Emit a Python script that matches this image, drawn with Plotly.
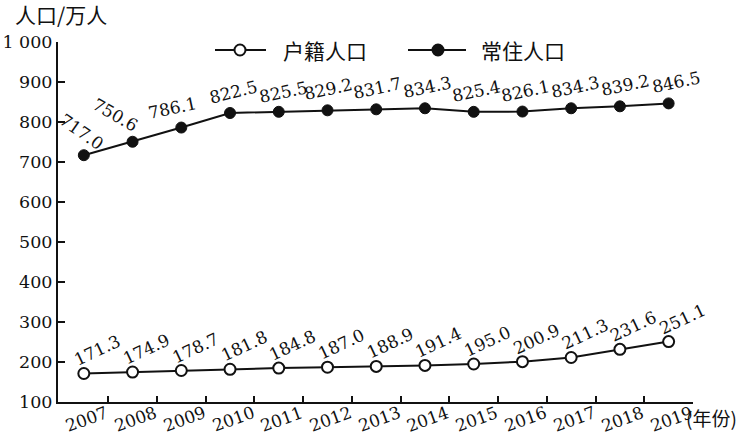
import plotly.graph_objects as go

years = [2007, 2008, 2009, 2010, 2011, 2012, 2013, 2014, 2015, 2016, 2017, 2018, 2019]
huji = [171.3, 174.9, 178.7, 181.8, 184.8, 187.0, 188.9, 191.4, 195.0, 200.9, 211.3, 231.6, 251.1]
changzhu = [717.0, 750.6, 786.1, 822.5, 825.5, 829.2, 831.7, 834.3, 825.4, 826.1, 834.3, 839.2, 846.5]
y_tickvals = [100, 200, 300, 400, 500, 600, 700, 800, 900, 1000]
y_ticktext = ["100", "200", "300", "400", "500", "600", "700", "800", "900", "1 000"]
name_huji = "户籍人口"
name_changzhu = "常住人口"
y_title = "人口/万人"
x_unit = "(年份)"

# label styling (angles / pixel offsets)
top_angle = [35, 30, -12, -14, -12, -12, -12, -12, -12, -12, -12, -12, -12]
top_dx = [-2, -17, -9, 3, 5, 1, 1, 3, 3, 3, 4, 6, 8]
top_dy = [23, 27, 20, 21, 20, 21, 21, 21, 21, 21, 21, 21, 21]
bot_angle = -25
bot_dx = 14
bot_dy = 23

SERIF = "DejaVu Serif"
CJK = "Noto Sans CJK SC"
BLACK = "#111111"

W, H = 745, 446
L, R, T, B = 58, 52, 42, 44
pw, ph = W - L - R, H - T - B


def px(xp):
    return (xp - L) / pw


def py(yp):
    return (H - B - yp) / ph


fig = go.Figure()
fig.add_trace(go.Scatter(
    x=years, y=changzhu, mode="lines+markers", name=name_changzhu,
    line=dict(color=BLACK, width=2),
    marker=dict(symbol="circle", size=11, color=BLACK, line=dict(color=BLACK, width=1)),
    showlegend=False, cliponaxis=False,
))
fig.add_trace(go.Scatter(
    x=years, y=huji, mode="lines+markers", name=name_huji,
    line=dict(color=BLACK, width=2),
    marker=dict(symbol="circle", size=11, color="white", line=dict(color=BLACK, width=2)),
    showlegend=False, cliponaxis=False,
))

annotations = []
for i, (yr, v) in enumerate(zip(years, changzhu)):
    annotations.append(dict(
        x=yr, y=v, xref="x", yref="y", text=f"{v:.1f}", showarrow=False,
        textangle=top_angle[i], xshift=top_dx[i], yshift=top_dy[i],
        font=dict(family=SERIF, size=17, color=BLACK),
        xanchor="center", yanchor="middle",
    ))
for yr, v in zip(years, huji):
    annotations.append(dict(
        x=yr, y=v, xref="x", yref="y", text=f"{v:.1f}", showarrow=False,
        textangle=bot_angle, xshift=bot_dx, yshift=bot_dy,
        font=dict(family=SERIF, size=17, color=BLACK),
        xanchor="center", yanchor="middle",
    ))
# x tick labels (rotated)
for yr in years:
    annotations.append(dict(
        x=yr, y=py(419), xref="x", yref="paper", text=str(yr), showarrow=False,
        textangle=-20, xshift=3,
        font=dict(family=SERIF, size=17, color=BLACK),
        xanchor="center", yanchor="middle",
    ))
annotations.append(dict(
    x=px(684), y=py(417), xref="paper", yref="paper", text=x_unit, showarrow=False,
    font=dict(family=CJK, size=19, color=BLACK), xanchor="left", yanchor="middle",
))
annotations.append(dict(
    x=px(13), y=py(14), xref="paper", yref="paper", text=y_title, showarrow=False,
    font=dict(family=CJK, size=21, color=BLACK), xanchor="left", yanchor="middle",
))

shapes = []
leg_y = 50
for (x0, x1, xm, filled, tx, name) in [
    (215, 266, 240, False, 281, name_huji),
    (408, 466, 438, True, 479, name_changzhu),
]:
    shapes.append(dict(type="line", xref="paper", yref="paper",
                       x0=px(x0), x1=px(x1), y0=py(leg_y), y1=py(leg_y),
                       line=dict(color=BLACK, width=2)))
    r = 5.5
    shapes.append(dict(type="circle", xref="paper", yref="paper",
                       x0=px(xm - r), x1=px(xm + r), y0=py(leg_y + r), y1=py(leg_y - r),
                       fillcolor=BLACK if filled else "white",
                       line=dict(color=BLACK, width=2)))
    annotations.append(dict(
        x=px(tx), y=py(leg_y), xref="paper", yref="paper", text=name, showarrow=False,
        font=dict(family=CJK, size=21, color=BLACK), xanchor="left", yanchor="middle",
    ))

fig.update_layout(
    width=W, height=H,
    margin=dict(l=L, r=R, t=T, b=B),
    paper_bgcolor="white", plot_bgcolor="white",
    showlegend=False,
    annotations=annotations,
    shapes=shapes,
    xaxis=dict(
        range=[2006.47, 2019.5],
        tickvals=[y + 0.5 for y in years],
        showticklabels=False,
        ticks="inside", ticklen=6, tickwidth=2, tickcolor=BLACK,
        showline=True, linecolor=BLACK, linewidth=2,
        showgrid=False, zeroline=False, automargin=False,
    ),
    yaxis=dict(
        range=[100, 1000],
        tickvals=y_tickvals, ticktext=y_ticktext,
        ticks="inside", ticklen=7, tickwidth=2, tickcolor=BLACK,
        showline=True, linecolor=BLACK, linewidth=2,
        showgrid=False, zeroline=False, automargin=False,
        tickfont=dict(family=SERIF, size=17.5, color=BLACK),
        ticklabelstandoff=0,
    ),
)

fig.write_html("out.html", config={"displayModeBar": False},
               post_script="document.body.style.margin='0px';")
